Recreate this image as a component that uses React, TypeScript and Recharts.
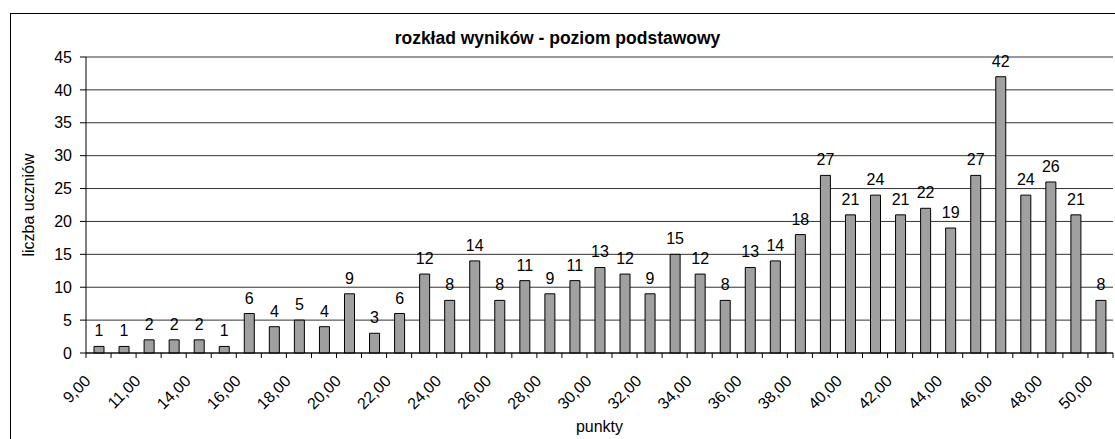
import React from "react";
import { BarChart, Bar, XAxis, YAxis, CartesianGrid, LabelList, Label } from "recharts";

const categories = ["9,00","10,00","11,00","12,00","14,00","15,00","16,00","17,00","18,00","19,00","20,00","21,00","22,00","23,00","24,00","25,00","26,00","27,00","28,00","29,00","30,00","31,00","32,00","33,00","34,00","35,00","36,00","37,00","38,00","39,00","40,00","41,00","42,00","43,00","44,00","45,00","46,00","47,00","48,00","49,00","50,00"];
const counts = [1,1,2,2,2,1,6,4,5,4,9,3,6,12,8,14,8,11,9,11,13,12,9,15,12,8,13,14,18,27,21,24,21,22,19,27,42,24,26,21,8];
const yTicks = [0,5,10,15,20,25,30,35,40,45];
const title = "rozkład wyników - poziom podstawowy";
const xTitle = "punkty";
const yTitle = "liczba uczniów";

const data = categories.map((c, i) => ({ cat: c, value: counts[i] }));
const FONT = "'Liberation Sans', Arial, sans-serif";

const XTick = (props: any) => {
  const { x, y, payload, index } = props;
  const half = payload && payload.offset ? payload.offset : 12.5;
  const isLast = index === categories.length - 1;
  const ax = x - 7;
  const ay = y + 21;
  return (
    <g>
      <line x1={x - half} y1={y - 8} x2={x - half} y2={y - 3} stroke="#000" strokeWidth={1} />
      {isLast && <line x1={x + half} y1={y - 8} x2={x + half} y2={y - 3} stroke="#000" strokeWidth={1} />}
      {index % 2 === 0 && (
        <text x={ax} y={ay} textAnchor="end" transform={`rotate(-45, ${ax}, ${ay})`} fontSize={16} fontFamily={FONT} fill="#000">
          {payload.value}
        </text>
      )}
    </g>
  );
};

export default function App() {
  return (
    <div style={{ position: "absolute", left: 0, top: 0, width: 1115, height: 439, overflow: "hidden", background: "#fff" }}>
      <div style={{ position: "absolute", left: 10, top: 13, width: 1200, height: 600, border: "1px solid #000", boxSizing: "border-box" }} />
      <div style={{ position: "absolute", left: 0, top: 28, width: 1115, textAlign: "center", fontFamily: FONT, fontWeight: "bold", fontSize: 17.5, color: "#000" }}>
        {title}
      </div>
      <div style={{ position: "absolute", left: 0, top: 0 }}>
        <BarChart width={1115} height={439} data={data} margin={{ top: 57, right: 2, bottom: 0, left: 0 }} barSize={10}>
          <CartesianGrid vertical={false} stroke="#333" strokeWidth={1} />
          <XAxis dataKey="cat" height={86} interval={0} tickLine={false} axisLine={{ stroke: "#000" }} tick={<XTick />} tickMargin={0} tickSize={8}>
            <Label value={xTitle} position="insideBottom" offset={7} fontSize={16} fontFamily={FONT} fill="#000" />
          </XAxis>
          <YAxis width={86} domain={[0, 45]} ticks={yTicks} interval={0} tickSize={6} tickMargin={8} axisLine={{ stroke: "#000" }} tickLine={{ stroke: "#000" }} tick={{ fontSize: 16, fontFamily: FONT, fill: "#000" }}>
            <Label value={yTitle} angle={-90} position="insideLeft" offset={28} fontSize={16} fontFamily={FONT} fill="#000" style={{ textAnchor: "middle" }} />
          </YAxis>
          <YAxis yAxisId="r" orientation="right" width={0} tick={false} tickLine={false} axisLine={{ stroke: "#808080" }} domain={[0, 45]} />
          <Bar dataKey="value" fill="#a0a0a0" stroke="#000" strokeWidth={1} isAnimationActive={false}>
            <LabelList dataKey="value" position="top" offset={10} fontSize={16} fontFamily={FONT} fill="#000" />
          </Bar>
        </BarChart>
      </div>
    </div>
  );
}
